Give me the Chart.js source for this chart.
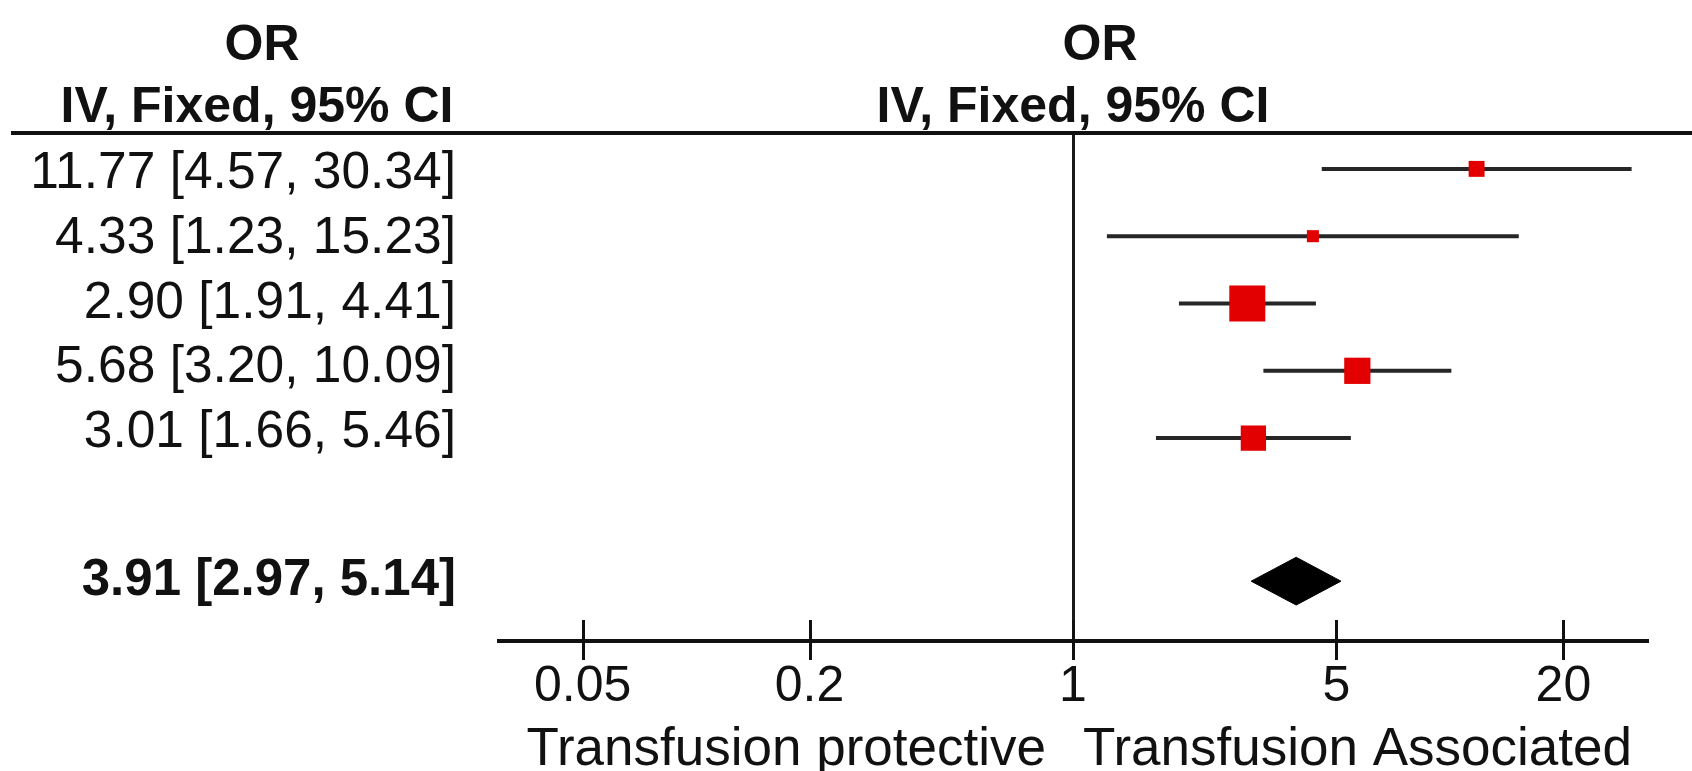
<!DOCTYPE html>
<html>
<head>
<meta charset="utf-8">
<script src="https://cdn.jsdelivr.net/npm/chart.js@4.4.1/dist/chart.umd.min.js"></script>
<style>
html,body{margin:0;padding:0;background:#fff;}
#wrap{width:1692px;height:771px;position:relative;}
</style>
</head>
<body>
<div id="wrap"><canvas id="c" width="1692" height="771"></canvas></div>
<script>
// ---- data ----
const studyOR = [11.77, 4.33, 2.90, 5.68, 3.01];
const studyLo = [4.57, 1.23, 1.91, 3.20, 1.66];
const studyHi = [30.34, 15.23, 4.41, 10.09, 5.46];
const studyWeight = [8.4, 4.8, 42.9, 22.8, 21.2];
const studyRow = [1, 2, 3, 4, 5];
const studyLabels = ["11.77 [4.57, 30.34]", "4.33 [1.23, 15.23]", "2.90 [1.91, 4.41]", "5.68 [3.20, 10.09]", "3.01 [1.66, 5.46]"];
const totalOR = [3.91];
const totalLo = [2.97];
const totalHi = [5.14];
const totalRow = [7];
const totalLabels = ["3.91 [2.97, 5.14]"];
const tickValues = [0.05, 0.2, 1, 5, 20];
const tickLabels = ["0.05", "0.2", "1", "5", "20"];
const headerLeft = ["OR", "IV, Fixed, 95% CI"];
const headerRight = ["OR", "IV, Fixed, 95% CI"];
const favoursLabels = ["Transfusion protective", "Transfusion Associated"];

// ---- styles ----
const FONT = '"Liberation Sans", Arial, sans-serif';
const INK = '#111111';
const RED = '#e30000';
const maxW = Math.max(...studyWeight);
const BIG_SIDE = 36;          // px side of the largest square
const DIAMOND_HALF = 0.355;   // half height of diamond in row units
const TOTAL_SHIFT = 0.125;    // summary row sits slightly lower than row 7
const LABEL_TOP = 188;        // baseline of first study label (px)
const LABEL_STEP = 64.75;     // spacing of study labels (px)

// CI lines (one dataset with gaps)
const ciData = [];
studyRow.forEach((r, i) => {
  ciData.push({x: studyLo[i], y: r});
  ciData.push({x: studyHi[i], y: r});
  ciData.push({x: studyOR[i], y: null});
});
const squareData = studyRow.map((r, i) => ({x: studyOR[i], y: r}));
const squareRadius = studyWeight.map(w => (BIG_SIDE * Math.sqrt(w / maxW)) / (2 * Math.SQRT1_2));
const diamondData = [];
totalRow.forEach((r0, i) => {
  const r = r0 + TOTAL_SHIFT;
  diamondData.push({x: totalLo[i], y: r});
  diamondData.push({x: totalOR[i], y: r - DIAMOND_HALF});
  diamondData.push({x: totalHi[i], y: r});
  diamondData.push({x: totalOR[i], y: r + DIAMOND_HALF});
  diamondData.push({x: totalLo[i], y: r});
});

const overlay = {
  id: 'overlay',
  afterDraw(chart) {
    const ctx = chart.ctx, xs = chart.scales.x, ys = chart.scales.y, ca = chart.chartArea;
    const x1 = xs.getPixelForValue(1);
    ctx.save();
    ctx.fillStyle = INK;
    // header rule
    ctx.fillRect(11, ca.top - 2, chart.width - 11, 4);
    // headers
    ctx.font = 'bold 50px ' + FONT;
    ctx.textAlign = 'center';
    ctx.textBaseline = 'alphabetic';
    ctx.fillText(headerLeft[0], 262, 60);
    ctx.fillText(headerLeft[1], 257, 122);
    ctx.fillText(headerRight[0], x1 + 27, 60);
    ctx.fillText(headerRight[1], x1, 122);
    // row labels
    ctx.textAlign = 'right';
    ctx.font = '51.5px ' + FONT;
    studyLabels.forEach((t, i) => ctx.fillText(t, 456, LABEL_TOP + (studyRow[i] - 1) * LABEL_STEP));
    ctx.font = 'bold 51px ' + FONT;
    totalLabels.forEach((t, i) => ctx.fillText(t, 456, ys.getPixelForValue(totalRow[i] + TOTAL_SHIFT) + 14));
    // favours labels
    ctx.font = '53px ' + FONT;
    ctx.textAlign = 'right';
    ctx.fillText(favoursLabels[0], x1 - 27, 765);
    ctx.textAlign = 'left';
    ctx.fillText(favoursLabels[1], x1 + 10, 765);
    // crossing tick marks
    ctx.strokeStyle = INK;
    ctx.lineWidth = 3;
    const ay = ca.bottom;
    xs.ticks.forEach(t => {
      const px = Math.round(xs.getPixelForValue(t.value)) + 0.5;
      ctx.beginPath();
      ctx.moveTo(px, ay - 21);
      ctx.lineTo(px, ay + 19);
      ctx.stroke();
    });
    ctx.restore();
  }
};

Chart.defaults.font.family = FONT;
new Chart(document.getElementById('c'), {
  type: 'scatter',
  data: {
    datasets: [
      {
        label: 'Studies',
        data: squareData,
        order: 0,
        pointStyle: 'rect',
        pointRadius: squareRadius,
        pointHoverRadius: squareRadius,
        backgroundColor: RED,
        borderWidth: 0
      },
      {
        label: 'CI',
        type: 'line',
        data: ciData,
        order: 1,
        showLine: true,
        spanGaps: false,
        borderColor: '#262626',
        borderWidth: 4,
        pointRadius: 0,
        fill: false
      },
      {
        label: 'Total',
        type: 'line',
        data: diamondData,
        order: 0,
        showLine: true,
        borderColor: '#000',
        borderWidth: 1,
        backgroundColor: '#000',
        pointRadius: 0,
        fill: 'shape',
        tension: 0
      }
    ]
  },
  options: {
    responsive: false,
    animation: false,
    devicePixelRatio: 1,
    layout: {padding: {left: 499, right: 45, top: 133, bottom: 38}},
    plugins: {legend: {display: false}, tooltip: {enabled: false}},
    scales: {
      x: {
        type: 'logarithmic',
        min: 0.03,
        max: 33.333,
        afterBuildTicks: (scale) => { scale.ticks = tickValues.map(v => ({value: v})); },
        ticks: {
          autoSkip: false,
          maxRotation: 0,
          minRotation: 0,
          padding: 16,
          color: INK,
          font: {size: 50, family: FONT},
          callback: (v, i) => tickLabels[i]
        },
        grid: {
          drawTicks: false,
          lineWidth: 3,
          color: (c) => (c.tick && c.tick.value === 1) ? '#1a1a1a' : 'rgba(0,0,0,0)'
        },
        border: {display: true, color: INK, width: 4}
      },
      y: {
        type: 'linear',
        display: false,
        reverse: true,
        min: 0.467,
        max: 8.014
      }
    }
  },
  plugins: [overlay]
});
</script>
</body>
</html>
